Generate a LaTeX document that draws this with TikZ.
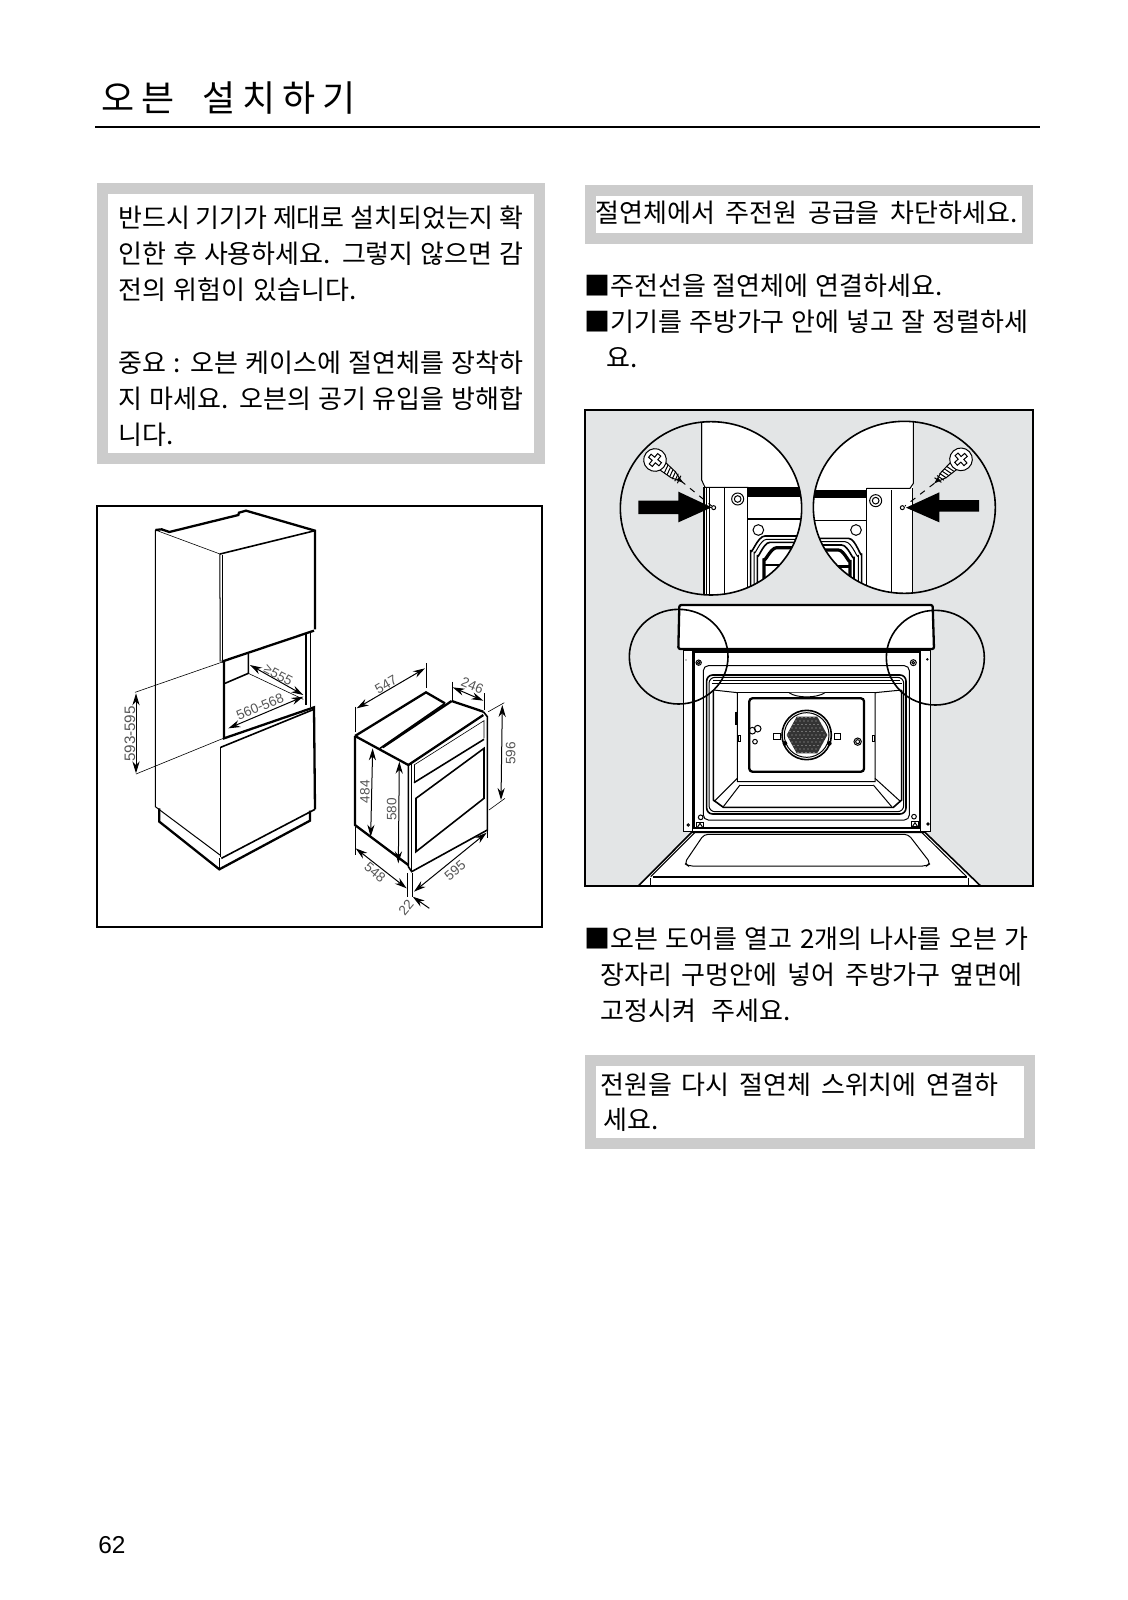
\documentclass[tikz,border=0pt]{standalone}
\usepackage{fontspec}
\setmainfont{Noto Sans CJK KR}
\newfontfamily\titlefont[LetterSpace=19]{Noto Sans CJK KR}
\newfontfamily\dimfont{Liberation Sans}
\usetikzlibrary{arrows.meta}
\definecolor{panelgray}{HTML}{CCCCCC}
\definecolor{sheetgray}{HTML}{E3E5E6}
\definecolor{dimtext}{HTML}{555555}
\newcommand{\kline}[2]{\makebox[#1][s]{#2}}
\tikzset{
    kor/.style={inner sep=0pt,anchor=base west,font=\fontsize{13pt}{13pt}\selectfont},
    dimlabel/.style={inner sep=0pt,text=dimtext,font=\dimfont\fontsize{6.8pt}{6.8pt}\selectfont},
    hairline/.style={line width=.3pt},
    thinline/.style={line width=.5pt},
    midline/.style={line width=.8pt},
    heavyline/.style={line width=1.15pt},
    dimarrow/.style={line width=.5pt,{Stealth[length=6pt,width=3.6pt]}-{Stealth[length=6pt,width=3.6pt]}},
    screwpic/.pic={
        \draw[thinline,fill=white] (30,-14) -- (70,-11) -- (104,0) -- (70,11) -- (30,14) -- cycle;
        \foreach \t in {40,50,...,90} \draw[thinline] (\t,-12) -- (\t+6,12);
        \fill (88,-5) -- (106,0) -- (88,5) -- cycle;
        \draw[thinline,fill=white] (0,0) circle [radius=34];
        \draw[thinline] (-20,-6) -- (-6,-6) -- (-6,-20) -- (6,-20) -- (6,-6) -- (20,-6) -- (20,6) -- (6,6) -- (6,20) -- (-6,20) -- (-6,6) -- (-20,6) -- cycle;
    }
}
\begin{document}
\begin{tikzpicture}[x=.5pt,y=-.5pt]
    \useasboundingbox (0,0) rectangle (1128,1600);
    \node[kor,font=\titlefont\fontsize{18pt}{18pt}\selectfont] (title) at (101,112) {\kline{127pt}{오븐 설치하기}};
    \draw[line width=1.3pt] (95,127) -- (1040,127);
    \node[anchor=base west,inner sep=0pt,font=\dimfont\fontsize{12.2pt}{12.2pt}\selectfont] (pagenum) at (98,1553) {62};

    \draw[panelgray,line width=5.5pt] (102.5,188.5) rectangle (539.5,458);
    \node[kor] (warnA) at (118,227) {\kline{202.5pt}{반드시 기기가 제대로 설치되었는지 확}};
    \node[kor] (warnB) at (118,263) {\kline{202.5pt}{인한 후 사용하세요. 그렇지 않으면 감}};
    \node[kor] (warnC) at (118,299) {\kline{119pt}{전의 위험이 있습니다.}};
    \node[kor] (warnD) at (118,372) {\kline{202.5pt}{중요 : 오븐 케이스에 절연체를 장착하}};
    \node[kor] (warnE) at (118,408) {\kline{202.5pt}{지 마세요. 오븐의 공기 유입을 방해합}};
    \node[kor] (warnF) at (118,444) {니다.};

    \draw[panelgray,line width=5.5pt] (590.5,190) rectangle (1027.5,238);
    \node[kor] (cutoff) at (595,222) {\kline{211pt}{절연체에서 주전원 공급을 차단하세요.}};
    \node[kor] (stepA) at (584,295) {\kline{179pt}{■주전선을 절연체에 연결하세요.}};
    \node[kor] (stepB) at (584,331) {\kline{222pt}{■기기를 주방가구 안에 넣고 잘 정렬하세}};
    \node[kor] (stepC) at (606,367) {요.};
    \node[kor] (stepD) at (584,948) {\kline{222pt}{■오븐 도어를 열고 2개의 나사를 오븐 가}};
    \node[kor] (stepE) at (600,984) {\kline{211pt}{장자리 구멍안에 넣어 주방가구 옆면에}};
    \node[kor] (stepF) at (600,1020) {\kline{95pt}{고정시켜 주세요.}};

    \draw[panelgray,line width=5.5pt] (590.5,1060.5) rectangle (1029.5,1143);
    \node[kor] (powerA) at (600,1094) {\kline{199pt}{전원을 다시 절연체 스위치에 연결하}};
    \node[kor] (powerB) at (603,1129) {세요.};

    \draw[line width=1pt] (97,506) rectangle (542,927);

    \begin{scope}[shift={(90,490)},scale=1/3]
        \coordinate (TL) at (196,120);  \coordinate (TF) at (390,192);  \coordinate (TR) at (675,122);
        \draw[thinline] (TL) -- (196,950) -- (390,1095);
        \draw[hairline] (TL) -- (TF);
        \draw[heavyline] (TL) -- (215,118) -- (238,126) -- (445,75) -- (447,68) -- (468,62) -- (TR) -- (675,418);
        \draw[midline] (TF) -- (TR);
        \draw[thinline] (TF) -- (390,515);
        \draw[hairline] (396,195) -- (396,510);
        \draw[heavyline] (395,515) -- (672,422);
        \draw[heavyline] (402,515) -- (402,745) -- (672,652) -- (675,958);
        \draw[midline] (648,428) -- (648,645);
        \draw[hairline] (660,424) -- (660,650);
        \draw[midline] (405,580) -- (475,550) -- (475,492);
        \draw[hairline] (475,550) -- (640,628);
        \draw[midline] (392,772) -- (672,658);
        \draw[thinline] (392,772) -- (392,1100);
        \draw[midline] (394,1105) -- (675,958);
        \draw[heavyline] (208,955) -- (208,995) -- (388,1138) -- (660,992) -- (660,962);
        \draw[thinline] (388,1105) -- (388,1138);
        \draw[hairline] (135,607) -- (400,515);
        \draw[hairline] (138,852) -- (400,745);
        \coordinate (heightA) at (138,610); \coordinate (heightB) at (138,850);
        \draw[dimarrow] (heightA) -- (heightB);
        \node[dimlabel,rotate=90,font=\dimfont\fontsize{7.6pt}{7.6pt}\selectfont] (heightlabel) at (120,732) {593-595};
        \coordinate (depthA) at (480,525);  \coordinate (depthB) at (640,615);
        \draw[dimarrow] (depthA) -- (depthB);
        \node[dimlabel,rotate=-28] (depthlabel) at (565,555) {≥555};
        \coordinate (widthA) at (415,715);  \coordinate (widthB) at (640,620);
        \draw[dimarrow] (widthA) -- (widthB);
        \node[dimlabel,rotate=23] (widthlabel) at (510,650) {560-568};

        \coordinate (A) at (795,738);  \coordinate (B) at (1008,607);  \coordinate (C) at (1180,665);
        \coordinate (D) at (955,825);  \coordinate (E) at (795,1005);  \coordinate (F) at (955,1125);
        \draw[heavyline] (A) -- (E) -- (F);
        \draw[heavyline] (A) -- (B) -- (1065,640);
        \draw[heavyline] (1085,633) -- (C);
        \draw[heavyline] (A) -- (D);
        \draw[midline] (870,775) -- (1065,640);
        \draw[heavyline] (878,772) -- (1085,633);
        \draw[heavyline] (D) -- (1180,675);
        \draw[midline] (C) -- (1192,680) -- (1192,1020) -- (965,1145) -- (955,1130) -- (D);
        \draw[hairline] (965,822) -- (965,1145);
        \draw[hairline] (972,825) -- (1182,692) -- (1182,745);
        \draw[hairline] (972,825) -- (972,878);
        \draw[midline] (972,878) -- (1182,748);
        \draw[midline] (978,925) -- (1182,775) -- (1182,925) -- (978,1085) -- cycle;
        \draw[hairline] (795,650) -- (795,725);
        \draw[hairline] (1008,520) -- (1008,595);
        \draw[dimarrow] (800,655) -- (1005,535);
        \node[dimlabel,rotate=30] (topdepth) at (888,583) {547};
        \draw[hairline] (1088,575) -- (1088,632);
        \draw[hairline] (1183,610) -- (1183,660);
        \draw[dimarrow] (1088,592) -- (1180,632);
        \node[dimlabel,rotate=-22] (topband) at (1147,586) {246};
        \draw[hairline] (1195,665) -- (1243,638);
        \draw[hairline] (1197,960) -- (1245,925);
        \draw[dimarrow] (1237,645) -- (1233,930);
        \node[dimlabel,rotate=90] (fronth) at (1262,790) {596};
        \draw[dimarrow] (848,775) -- (842,1040);
        \node[dimlabel,rotate=90] (sideh) at (825,905) {484};
        \draw[dimarrow] (928,815) -- (925,1120);
        \node[dimlabel,rotate=90] (bodyh) at (905,958) {580};
        \draw[hairline] (795,1010) -- (795,1095);
        \draw[dimarrow] (797,1075) -- (950,1195);
        \node[dimlabel,rotate=-40] (sided) at (855,1148) {548};
        \draw[hairline] (1192,1020) -- (1192,1045);
        \draw[dimarrow] (972,1205) -- (1190,1028);
        \node[dimlabel,rotate=40] (frontw) at (1095,1142) {595};
        \draw[hairline] (953,1150) -- (953,1222);
        \draw[hairline] (966,1150) -- (966,1222);
        \draw[line width=.5pt,-{Stealth[length=6pt,width=3.6pt]}] (1018,1255) -- (968,1220);
        \node[dimlabel,rotate=50] (lip) at (948,1252) {22};
    \end{scope}

    \fill[sheetgray] (585,410) rectangle (1033,886);

    \begin{scope}[shift={(580,400)},scale=1/3]
        \begin{scope}
            \clip (393,325) ellipse [x radius=272,y radius=260];
            \fill[white] (368,50) rectangle (680,600);
            \draw[thinline] (365,50) -- (365,240) -- (375,262) -- (505,262);
            \fill (505,262) rectangle (670,290);
            \draw[heavyline] (372,262) -- (372,590);
            \draw[thinline] (378,262) -- (378,590);
            \draw[thinline] (388,262) -- (388,590);
            \draw[thinline] (433,265) -- (433,590);
            \draw[midline] (502,265) -- (502,590);
            \draw[thinline] (473,297) circle [radius=18];
            \draw[thinline] (473,297) circle [radius=10];
            \draw[midline] (502,357) -- (670,357);
            \draw[thinline] (535,390) circle [radius=16];
            \draw[midline] (512,590) -- (512,450) to[out=-90,in=180] (555,408) -- (670,408);
            \draw[thinline] (522,590) -- (522,455) to[out=-90,in=180] (560,418) -- (670,418);
            \draw[midline] (532,590) -- (532,465) to[out=-90,in=180] (570,427) -- (670,427);
            \draw[line width=1.6pt] (552,590) -- (552,475) to[out=-90,in=180] (590,443) -- (670,443);
            \draw[line width=1.4pt] (552,495) -- (660,495);
        \end{scope}
        \draw[midline] (393,325) ellipse [x radius=272,y radius=260];
        \pic[rotate=-39,scale=1/3] at (225,180) {screwpic};
        \draw[thinline,dashed] (302,242) -- (395,318);
        \fill (175,302) -- (295,302) -- (295,275) -- (395,322) -- (295,367) -- (295,342) -- (175,342) -- cycle;
        \draw[thinline,fill=white] (401,323) circle [radius=6];

        \begin{scope}
            \clip (973,322) ellipse [x radius=273,y radius=258];
            \fill[white] (690,50) rectangle (1000,600);
            \draw[thinline] (1000,50) -- (1000,250) -- (990,265) -- (860,265);
            \fill (700,270) rectangle (860,293);
            \draw[midline] (860,265) -- (860,590);
            \draw[thinline] (935,270) -- (935,590);
            \draw[midline] (997,265) -- (997,590);
            \draw[thinline] (887,302) circle [radius=18];
            \draw[thinline] (887,302) circle [radius=10];
            \draw[midline] (700,362) -- (860,362);
            \draw[thinline] (828,390) circle [radius=16];
            \draw[midline] (845,590) -- (845,460) to[out=-90,in=0] (805,415) -- (690,415);
            \draw[thinline] (835,590) -- (835,465) to[out=-90,in=0] (795,425) -- (690,425);
            \draw[midline] (822,590) -- (822,470) to[out=-90,in=0] (785,435) -- (690,435);
            \draw[line width=1.6pt] (810,590) -- (810,480) to[out=-90,in=0] (775,450) -- (690,450);
            \draw[line width=1.4pt] (810,500) -- (700,500);
        \end{scope}
        \draw[midline] (973,322) ellipse [x radius=273,y radius=258];
        \pic[rotate=-138,scale=1/3] at (1143,178) {screwpic};
        \draw[thinline,dashed] (1063,250) -- (975,318);
        \fill (1197,300) -- (1078,300) -- (1078,277) -- (978,323) -- (1078,367) -- (1078,335) -- (1197,335) -- cycle;
        \draw[thinline,fill=white] (967,323) circle [radius=6];
    \end{scope}

    \begin{scope}[shift={(580,600)},scale=1/3]
        \draw[midline,fill=white] (175,858) -- (335,697) -- (1035,697) -- (1202,858) -- cycle;
        \draw[thinline] (212,830) -- (345,697);
        \draw[thinline] (1160,830) -- (1025,697);
        \draw[heavyline] (218,830) -- (1160,830);
        \draw[thinline] (210,835) -- (210,858);
        \draw[thinline] (1165,835) -- (1165,858);
        \draw[thinline,rounded corners=2pt] (372,703) -- (985,703) -- (1052,790) -- (1040,798) -- (325,798) -- (313,790) -- cycle;
        \draw[thinline,fill=white] (310,150) rectangle (1050,695);
        \draw[thinline] (338,150) -- (338,695);
        \draw[thinline] (1022,150) -- (1022,695);
        \draw[heavyline] (342,158) -- (342,685) -- (1020,685) -- (1020,158);
        \draw[heavyline,fill=white,rounded corners=1pt] (298,15) -- (1058,15) -- (1062,147) -- (295,147) -- cycle;
        \fill (340,147) rectangle (1020,158);
        \draw[thinline,rounded corners=2.5pt] (370,197) rectangle (988,660);
        \draw[midline,rounded corners=3pt] (380,225) rectangle (978,642);
        \draw[thinline,rounded corners=3pt] (387,232) rectangle (971,635);
        \draw[midline] (395,250) -- (965,250);
        \draw[thinline] (400,240) -- (960,240);
        \draw[midline] (400,270) -- (400,600) -- (430,622) -- (940,622) -- (965,600) -- (965,270);
        \draw[thinline] (400,270) -- (472,278) -- (472,545) -- (885,545) -- (885,278) -- (965,270);
        \draw[thinline] (472,278) -- (885,278);
        \draw[thinline] (472,535) -- (402,605);
        \draw[thinline] (885,535) -- (962,605);
        \draw[thinline] (480,555) -- (430,620);
        \draw[thinline] (880,555) -- (935,620);
        \draw[thinline] (480,555) -- (880,555);
        \draw[thinline,fill=white] (627,278) .. controls (650,295) and (710,295) .. (735,278);
        \draw[heavyline,fill=white,rounded corners=1.5pt] (508,295) rectangle (852,515);
        \draw[thinline] (580,400) rectangle (600,418);
        \draw[thinline] (762,400) rectangle (782,418);
        \draw[midline,fill=white] (680,405) circle [radius=74];
        \draw[thinline] (680,405) circle [radius=67];
        \begin{scope}
            \clip (620,405) -- (650,350) -- (712,350) -- (742,405) -- (712,460) -- (650,460) -- cycle;
            \fill[black!80] (610,340) rectangle (750,470);
            \foreach \i in {0,...,12}
                \foreach \j in {0,...,12}
                    \fill[gray!60] ({612+\i*12+mod(\j,2)*6},{342+\j*10.5}) circle [radius=2];
        \end{scope}
        \fill (615,430) circle [radius=7];
        \fill (748,430) circle [radius=7];
        \draw[thinline] (525,425) circle [radius=7];
        \draw[thinline] (833,425) circle [radius=11];
        \draw[thinline] (833,425) circle [radius=6];
        \draw[thinline] (517,392) circle [radius=10];
        \draw[thinline] (533,386) circle [radius=10];
        \draw[heavyline] (468,335) -- (468,375);
        \draw[thinline] (475,405) rectangle (481,423);
        \draw[thinline] (878,405) rectangle (884,423);
        \draw[thinline] (356,188) circle [radius=8];
        \draw[thinline] (356,188) circle [radius=4];
        \draw[thinline] (1000,188) circle [radius=9];
        \draw[thinline] (1000,188) circle [radius=4];
        \fill (318,180) circle [radius=2];
        \fill (1042,178) circle [radius=4];
        \draw[thinline] (325,675) circle [radius=3.5];
        \draw[thinline] (1044,672) circle [radius=3.5];
        \draw[thinline] (362,652) circle [radius=7];
        \draw[thinline] (1002,650) circle [radius=7];
        \draw[midline] (350,667) rectangle (370,683);
        \draw[thinline] (352,682) -- (360,670) -- (368,682);
        \draw[midline] (995,665) rectangle (1015,681);
        \draw[thinline] (997,680) -- (1005,668) -- (1013,680);
        \draw[midline] (296,170) ellipse [x radius=148,y radius=142];
        \draw[midline] (1066,173) ellipse [x radius=147,y radius=142];
    \end{scope}

    \draw[line width=.9pt] (585,410) rectangle (1033,886);
\end{tikzpicture}
\end{document}
